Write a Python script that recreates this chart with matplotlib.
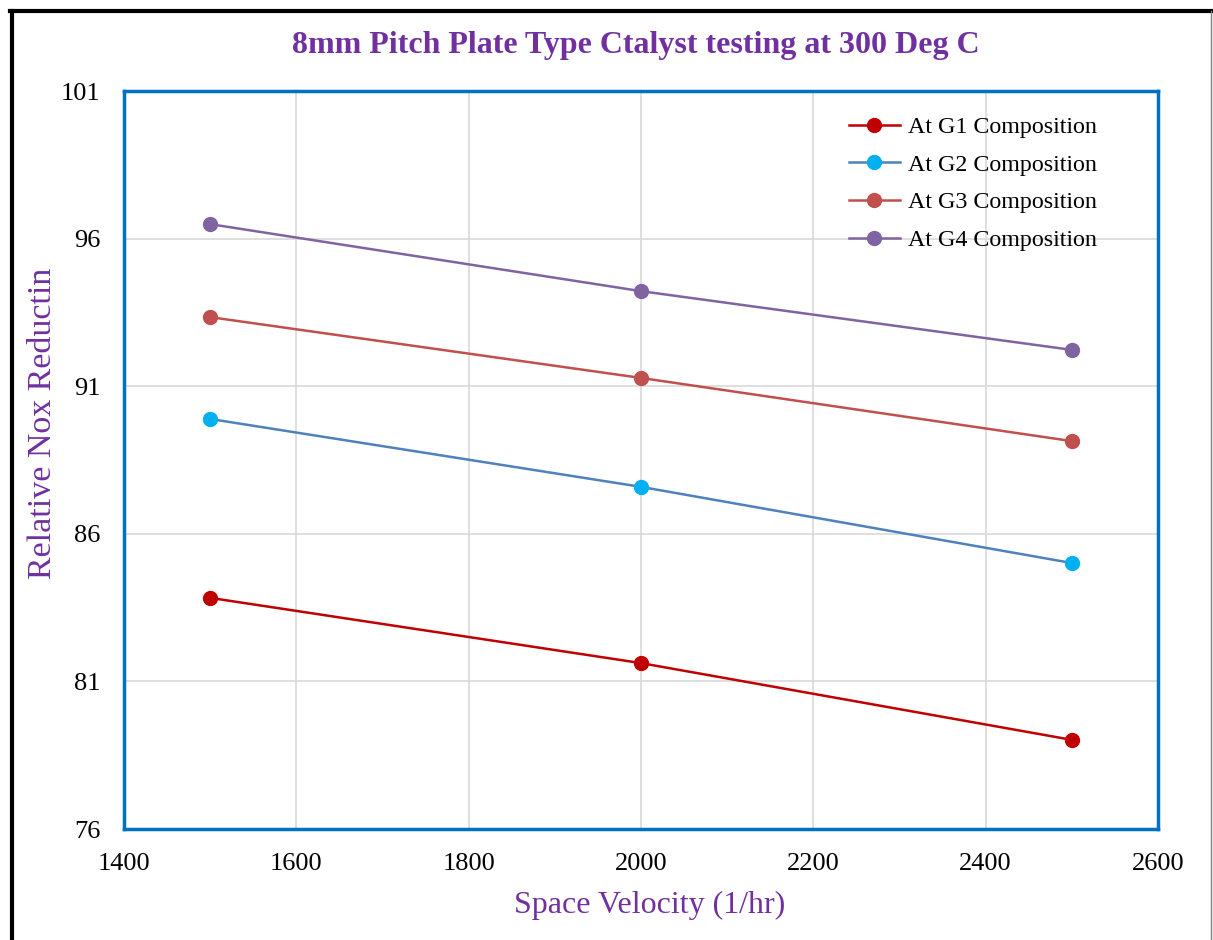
import matplotlib.pyplot as plt
from matplotlib.lines import Line2D

plt.rcParams['font.family'] = ['Liberation Serif', 'DejaVu Serif']

velocidad = [1500, 2000, 2500]
g1 = [83.83, 81.62, 79.02]
g2 = [89.89, 87.59, 85.01]
g3 = [93.34, 91.28, 89.14]
g4 = [96.49, 94.22, 92.23]

series = [
    ('At G1 Composition', g1, '#C00000', '#C00000'),
    ('At G2 Composition', g2, '#4F81BD', '#00B0F0'),
    ('At G3 Composition', g3, '#C0504D', '#C0504D'),
    ('At G4 Composition', g4, '#8064A2', '#8064A2'),
]

morado = '#7030A0'
W, H = 1213, 940

fig = plt.figure(figsize=(W / 100, H / 100), dpi=100)
ax = fig.add_axes([124 / W, 1 - 829 / H, (1158 - 124) / W, (829 - 91) / H])

for nombre, valores, c_linea, c_marca in series:
    ax.plot(velocidad, valores, color=c_linea, lw=1.8, marker='o', ms=10,
            mfc=c_marca, mec=c_marca, label=nombre, zorder=3)

ax.set_xlim(1400, 2600)
ax.set_ylim(76, 101)
ax.set_xticks(range(1400, 2601, 200))
ax.set_yticks(range(76, 102, 5))
ax.grid(True, color='#D9D9D9', lw=1.2)
ax.tick_params(length=0, labelsize=19)
ax.tick_params(axis='y', pad=17)
ax.tick_params(axis='x', pad=17)
for s in ax.spines.values():
    s.set_color('#0070C0')
    s.set_linewidth(2.5)

fig.text(650 / W, 1 - 905 / H, 'Space Velocity (1/hr)', ha='center', va='center',
         fontsize=23, color=morado)
fig.text(43 / W, 1 - 423 / H, 'Relative Nox Reductin', ha='center', va='center',
         rotation=90, fontsize=24.5, color=morado)
fig.text(636 / W, 1 - 45 / H, '8mm Pitch Plate Type Ctalyst testing at 300 Deg C',
         ha='center', va='center', fontsize=23, fontweight='bold', color=morado)

ax.legend(loc='upper right', bbox_to_anchor=(0.962, 0.995), frameon=False,
          fontsize=17.3, handlelength=2.1, labelspacing=0.66, handletextpad=0.35)

# marco exterior
fig.add_artist(Line2D([11.5 / W, 11.5 / W], [0, 1 - 10.5 / H], color='black', lw=3))
fig.add_artist(Line2D([10 / W, 1211 / W], [1 - 10.5 / H, 1 - 10.5 / H], color='black', lw=3))
fig.add_artist(Line2D([1211 / W, 1211 / W], [0, 1 - 10.5 / H], color='#808080', lw=1))

plt.savefig('out.png', dpi=100)
